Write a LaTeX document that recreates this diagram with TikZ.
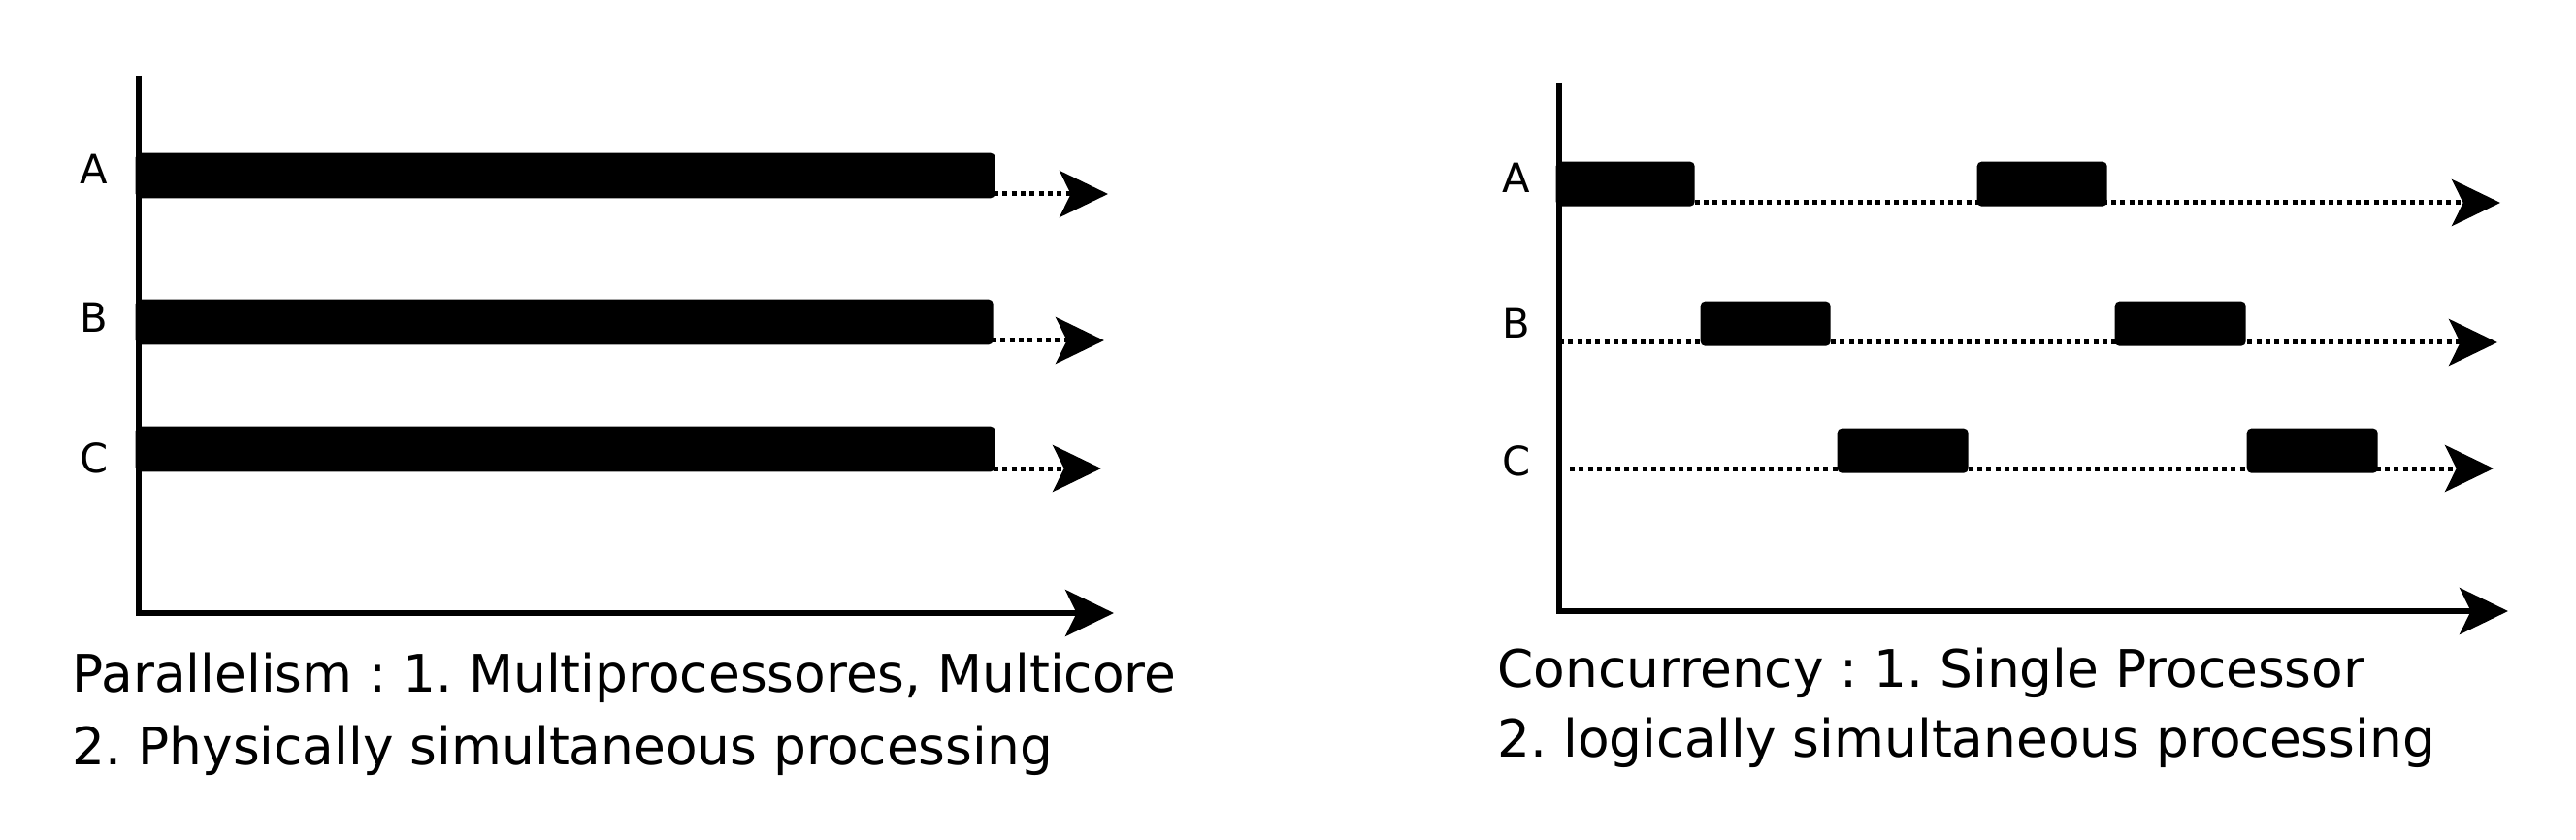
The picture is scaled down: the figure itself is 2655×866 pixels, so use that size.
\documentclass[tikz,border=0pt]{standalone}
\usepackage{fontspec}
\setmainfont{DejaVu Sans}
\frenchspacing
\usetikzlibrary{arrows.meta}
\tikzset{
  tip/.tip={Stealth[length=15pt,width=14.4pt,inset=3.5pt]},
  axisline/.style={line width=1.7pt, line join=miter, -tip},
  dotarrow/.style={line width=1.5pt, dash pattern=on 1.45pt off 1.35pt, -tip},
  bar/.style={fill=black, rounded corners=1.4pt, inner sep=0pt, anchor=north west, minimum height=14pt},
  lbl/.style={inner sep=0pt, font=\fontsize{12.5pt}{15pt}\selectfont},
  caption/.style={inner sep=0pt, anchor=base west, font=\fontsize{16pt}{20pt}\selectfont}
}
\begin{document}
\begin{tikzpicture}[x=0.3pt,y=-0.3pt]
\useasboundingbox (0,0) rectangle (2655,866);
% ---------- Left panel: Parallelism ----------
\coordinate (L-top) at (143,78);
\coordinate (L-org) at (143,632);
\coordinate (L-end) at (1148,632);
\node[bar, minimum width=265.8pt] (LA) at (139,157) {};
\node[bar, minimum width=265.2pt] (LB) at (139,308) {};
\node[bar, minimum width=265.8pt] (LC) at (139,439) {};
\coordinate (LA-s) at (1024,200); \coordinate (LA-t) at (1142,200);
\coordinate (LB-s) at (1022,351); \coordinate (LB-t) at (1138,351);
\coordinate (LC-s) at (1024,483); \coordinate (LC-t) at (1135,483);
\draw[dotarrow] (LA-s) -- (LA-t);
\draw[dotarrow] (LB-s) -- (LB-t);
\draw[dotarrow] (LC-s) -- (LC-t);
\draw[axisline] (L-top) -- (L-org) -- (L-end);
\node[lbl] (LlabA) at (97,174) {A};
\node[lbl] (LlabB) at (97,327) {B};
\node[lbl] (LlabC) at (97,472) {C};
\node[caption] (Lcap1) at (74,713) {Parallelism : 1. Multiprocessores, Multicore};
\node[caption] (Lcap2) at (74,788) {2. Physically simultaneous processing};
% ---------- Right panel: Concurrency ----------
\coordinate (R-top) at (1607,86);
\coordinate (R-org) at (1607,630);
\coordinate (R-end) at (2585,630);
\coordinate (RA-s) at (1700,209); \coordinate (RA-t) at (2577,209);
\coordinate (RB-s) at (1607,353); \coordinate (RB-t) at (2574,353);
\coordinate (RC-s) at (1618,483); \coordinate (RC-t) at (2570,483);
\draw[dotarrow] (RA-s) -- (RA-t);
\draw[dotarrow] (RB-s) -- (RB-t);
\draw[dotarrow] (RC-s) -- (RC-t);
\node[bar, minimum width=42.9pt, minimum height=13.8pt] (RA1) at (1603,166) {};
\node[bar, minimum width=40.2pt, minimum height=13.8pt] (RA2) at (2037,166) {};
\node[bar, minimum width=40.2pt, minimum height=13.8pt] (RB1) at (1752,310) {};
\node[bar, minimum width=40.5pt, minimum height=13.8pt] (RB2) at (2179,310) {};
\node[bar, minimum width=40.5pt, minimum height=13.8pt] (RC1) at (1893,441) {};
\node[bar, minimum width=40.5pt, minimum height=13.8pt] (RC2) at (2315,441) {};
\draw[axisline] (R-top) -- (R-org) -- (R-end);
\node[lbl] (RlabA) at (1563,183) {A};
\node[lbl] (RlabB) at (1563,333) {B};
\node[lbl] (RlabC) at (1563,475) {C};
\node[caption] (Rcap1) at (1543,708) {Concurrency : 1. Single Processor};
\node[caption] (Rcap2) at (1543,780) {2. logically simultaneous processing};
\end{tikzpicture}
\end{document}
